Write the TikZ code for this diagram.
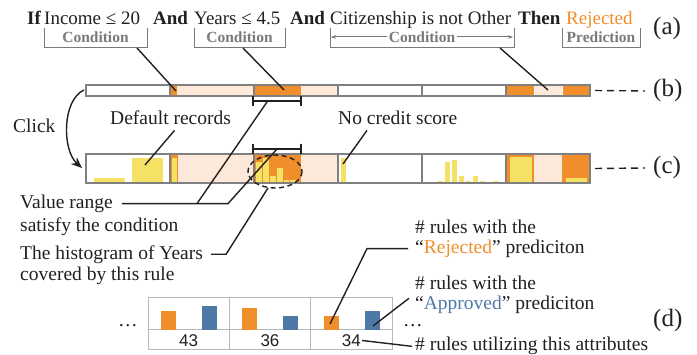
\documentclass[tikz,border=0pt]{standalone}
\usepackage{fontspec}
\setmainfont{Liberation Serif}
\newfontfamily\numfont{Liberation Sans}
\usetikzlibrary{arrows.meta}

\definecolor{ruleorange}{HTML}{F18E2C}
\definecolor{lightorange}{HTML}{FDE9DA}
\definecolor{histyellow}{HTML}{F5E163}
\definecolor{ruleblue}{HTML}{4E79A7}
\definecolor{framegray}{HTML}{808080}
\definecolor{labelgray}{HTML}{7A7A7A}
\definecolor{cellgray}{HTML}{B8B8B8}
\definecolor{inkblack}{HTML}{231F20}

\tikzset{
  txt/.style={font=\fontsize{19.5}{22}\selectfont, inner sep=0pt, anchor=base west, text=inkblack},
  ruletxt/.style={txt, font=\fontsize{19}{22}\selectfont},
  tag/.style={font=\fontsize{15.5}{18}\selectfont\bfseries, text=labelgray, fill=white, inner sep=1.5pt},
  panel/.style={font=\fontsize{25}{28}\selectfont, inner sep=0pt, anchor=base west, text=inkblack},
  brk/.style={draw=labelgray, line width=1pt},
  ptr/.style={draw=inkblack, line width=1.4pt},
  seg/.style={draw=framegray, line width=1.8pt},
  leader/.style={draw=inkblack, line width=1.4pt, dash pattern=on 7pt off 5pt},
  cell/.style={draw=cellgray, line width=1pt}
}

\begin{document}
\begin{tikzpicture}[x=1pt, y=-1pt]
\useasboundingbox (0,0) rectangle (697,355);

% the rule
\node[ruletxt] (kif) at (27,25) {\textbf{If}};
\node[ruletxt] (cond1) at (44,25) {Income ≤ 20};
\node[ruletxt] (kand1) at (153,25) {\textbf{And}};
\node[ruletxt] (cond2) at (194,25) {Years ≤ 4.5};
\node[ruletxt] (kand2) at (290,25) {\textbf{And}};
\node[ruletxt] (cond3) at (330,25) {Citizenship is not Other};
\node[ruletxt] (kthen) at (518,25) {\textbf{Then}};
\node[ruletxt, text=ruleorange] (pred) at (566,25) {Rejected};
\node[panel] (pa) at (653,35) {(a)};

% brackets under the rule
\draw[brk] (44,28) |- (147,48) -- (147,28);
\node[tag] (tag1) at (95.5,37) {Condition};
\draw[brk] (194,28) |- (285,48) -- (285,28);
\node[tag] (tag2) at (239.5,37) {Condition};
\draw[brk] (330,28) |- (514,48) -- (514,28);
\draw[brk, {Stealth[length=5pt]}-{Stealth[length=5pt]}] (331,37) -- (513,37);
\node[tag] (tag3) at (422,37) {Condition};
\draw[brk] (562,28) |- (640,48) -- (640,28);
\node[tag] (tag4) at (601,37) {Prediction};

% bar (b)
\fill[lightorange] (170,85) rectangle (254,96);
\fill[ruleorange] (170,85) rectangle (177,96);
\fill[ruleorange] (254,85) rectangle (301,96);
\fill[lightorange] (301,85) rectangle (338,96);
\fill[ruleorange] (506,85) rectangle (534,96);
\fill[lightorange] (534,85) rectangle (562,96);
\fill[ruleorange] (562,85) rectangle (590,96);
\draw[white, line width=1pt] (534,85) -- (534,96) (562,85) -- (562,96);
\foreach \x in {86,170,...,506}
  \draw[seg] (\x,85) rectangle ++(84,11);
\coordinate (bstart) at (84,90);
\coordinate (bend) at (595,90.5);
\node[panel] (pb) at (653,97) {(b)};
\draw[leader] (bend) -- ([xshift=-8pt]pb.west);

% bar (c)
\fill[histyellow] (94,178) rectangle (125,183);
\fill[histyellow] (132,158) rectangle (163,183);
\fill[lightorange] (170,154) rectangle (254,183);
\fill[ruleorange] (170,154) rectangle (178,183);
\fill[histyellow] (172,158) rectangle (177,183);
\fill[ruleorange] (254,154) rectangle (301,183);
\fill[lightorange] (301,154) rectangle (338,183);
\foreach \x/\t in {256/162, 263/158, 270/176, 277/168, 283.5/180, 290/180}
  \fill[histyellow] (\x,\t) rectangle (\x+5.5,183);
\fill[histyellow] (341,158) rectangle (346,183);
\foreach \x/\t in {438/181, 445/162, 452/160, 459/176, 466/181, 473/176, 480/181, 493/181}
  \fill[histyellow] (\x,\t) rectangle (\x+5,183);
\fill[ruleorange] (506,154) rectangle (534,183);
\fill[histyellow] (510,157) rectangle (532,183);
\fill[lightorange] (534,154) rectangle (562,183);
\fill[ruleorange] (562,154) rectangle (590,183);
\fill[histyellow] (566,178) rectangle (587,183);
\foreach \x in {86,170,...,506}
  \draw[seg] (\x,154) rectangle ++(84,29);
\coordinate (cstart) at (82,168);
\coordinate (cend) at (595,168.5);
\node[panel] (pc) at (653,174) {(c)};
\draw[leader] (cend) -- ([xshift=-8pt]pc.west);

% value range
\draw[ptr] (253,96) -- (253,106) (253,101) -- (301,101) (301,96) -- (301,106);
\draw[ptr] (253,144) -- (253,154) (253,149) -- (301,149) (301,144) -- (301,154);
\draw[ptr, dash pattern=on 5pt off 3.5pt] (275,171.5) ellipse [x radius=27, y radius=16.5];
\coordinate (rngb) at (267,102);
\coordinate (rngc) at (277,149);
\coordinate (histc) at (268,188);

% condition pointers
\draw[ptr] (137,48) -- (176,91);
\draw[ptr] (243,48) -- (284,90);
\draw[ptr] (500,48) -- (548,90);

% click
\node[txt] (click) at (13,133) {Click};
\draw[inkblack, line width=1.4pt, -{Stealth[length=11pt, width=9pt]}]
  (bstart) .. controls (62,100) and (62,150) .. (cstart);

% labels on bar (c)
\node[txt] (dflt) at (110,125) {Default records};
\coordinate (dfltbar) at (145,165);
\draw[ptr] ([xshift=4pt, yshift=-5pt]dflt.south) -- (dfltbar);
\node[txt] (nocs) at (338,125) {No credit score};
\coordinate (nocsbar) at (343,164);
\draw[ptr] ([xshift=29pt, yshift=-5pt]nocs.south west) -- (nocsbar);

\node[txt] (vr) at (20,208.3) {Value range};
\node[txt] (sat) at (20,231.7) {satisfy the condition};
\draw[ptr] ([xshift=9pt]vr.east) -- ([xshift=115pt]vr.east) -- (rngc);
\draw[ptr] ([xshift=84pt]vr.east) -- (rngb);

\node[txt] (hist) at (20,260) {The histogram of Years};
\node[txt] (cov) at (20,280.7) {covered by this rule};
\draw[ptr] ([xshift=8pt, yshift=1pt]hist.east) -- ([xshift=23pt, yshift=1pt]hist.east) -- (histc);

% attribute table (d)
\draw[cell] (148,298) rectangle (392,350);
\draw[cell] (148,330) -- (392,330);
\draw[cell] (229.3,298) -- (229.3,350) (310.7,298) -- (310.7,350);
\foreach \x/\o/\b/\n [count=\i] in {148/311/306/43, 229.3/307.7/316/36, 310.7/316/311/34} {
  \fill[ruleorange] (\x+13,\o) rectangle (\x+28,330);
  \fill[ruleblue] (\x+54,\b) rectangle (\x+69,330);
  \node[font=\numfont\fontsize{17}{20}\selectfont, text=inkblack, inner sep=0pt] (n\i) at (\x+40.7,340.5) {\n};
}
\node[txt] (dotl) at (118,327) {…};
\node[txt] (dotr) at (403,327) {…};
\node[panel] (pd) at (653,327) {(d)};

\node[txt] (rej1) at (415,234) {\# rules with the};
\node[txt] (rej2) at (415,253.3) {“\textcolor{ruleorange}{Rejected}” prediciton};
\node[txt] (app1) at (415,290) {\# rules with the};
\node[txt] (app2) at (415,310) {“\textcolor{ruleblue}{Approved}” prediciton};
\node[txt] (util) at (415,351) {\# rules utilizing this attributes};
\coordinate (rejbar) at (330,324);
\coordinate (appbar) at (373,326);
\draw[ptr] (rejbar) -- ([xshift=-48pt]rej2.west) -- ([xshift=-7pt]rej2.west);
\draw[ptr] (appbar) -- ([xshift=-6pt, yshift=-2pt]app2.north west);
\draw[ptr] ([xshift=1pt]n3.east) -- ([xshift=-3pt]util.west);

\end{tikzpicture}
\end{document}
